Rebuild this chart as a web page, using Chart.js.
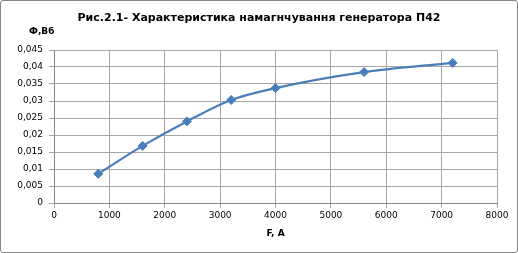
<!DOCTYPE html>
<html>
<head>
<meta charset="utf-8">
<script src="https://cdn.jsdelivr.net/npm/chart.js@4/dist/chart.umd.min.js"></script>
<style>
  html, body { margin: 0; padding: 0; background: #fff; }
  #wrap { position: relative; width: 518px; height: 253px; }
  #c { position: absolute; left: 0; top: 0; }
  #frame { position: absolute; left: 0; top: 0; width: 518px; height: 253px; box-sizing: border-box;
           border: 1px solid #868686; border-radius: 3px; pointer-events: none; }
</style>
</head>
<body>
<div id="wrap">
  <canvas id="c" width="518" height="253"></canvas>
  <div id="frame"></div>
</div>
<script>
const chartTitle = "Рис.2.1- Характеристика намагнчування генератора П42";
const yAxisTitle = "Ф,Вб";
const xAxisTitle = "F, A";
const currentF = [800, 1600, 2400, 3200, 4000, 5600, 7200];
const fluxPhi = [0.0086, 0.0168, 0.0240, 0.0303, 0.0338, 0.0385, 0.0412];
const xTicks = [0, 1000, 2000, 3000, 4000, 5000, 6000, 7000, 8000];
const yTicks = [0, 0.005, 0.01, 0.015, 0.02, 0.025, 0.03, 0.035, 0.04, 0.045];

const points = currentF.map((x, i) => ({ x: x, y: fluxPhi[i] }));
const fmt = v => String(Math.round(v * 1000) / 1000).replace('.', ',');

const textPlugin = {
  id: 'texts',
  afterDraw(chart) {
    const ctx = chart.ctx;
    const a = chart.chartArea;
    ctx.save();
    ctx.fillStyle = '#000';
    ctx.textBaseline = 'middle';
    ctx.font = 'bold 11px "DejaVu Sans"';
    ctx.textAlign = 'center';
    ctx.fillText(chartTitle, 259, 18);
    ctx.font = 'bold 9px "DejaVu Sans"';
    ctx.textAlign = 'left';
    ctx.fillText(yAxisTitle, 29, 32);
    ctx.textAlign = 'center';
    ctx.fillText(xAxisTitle, (a.left + a.right) / 2, 234);
    ctx.restore();
  }
};

new Chart(document.getElementById('c'), {
  type: 'line',
  data: {
    datasets: [{
      data: points,
      borderColor: '#4A7EBB',
      backgroundColor: '#4A7EBB',
      borderWidth: 2.25,
      pointStyle: 'rectRot',
      pointRadius: 4.5,
      pointBorderWidth: 1,
      pointBorderColor: '#4A7EBB',
      cubicInterpolationMode: 'monotone',
      fill: false
    }]
  },
  options: {
    responsive: false,
    animation: false,
    events: [],
    layout: { padding: { top: 50, right: 21, left: 0, bottom: 0 } },
    plugins: { legend: { display: false }, title: { display: false }, tooltip: { enabled: false } },
    scales: {
      x: {
        type: 'linear',
        min: 0, max: 8000,
        afterFit(s) { s.height = 50; },
        afterBuildTicks(s) { s.ticks = xTicks.map(v => ({ value: v })); },
        grid: { color: '#A6A6A6', lineWidth: 1, tickLength: 5, drawTicks: true },
        border: { color: '#868686' },
        ticks: { font: { family: 'DejaVu Sans', size: 9 }, color: '#000', padding: 2, maxRotation: 0,
                 callback: v => String(v) }
      },
      y: {
        type: 'linear',
        min: 0, max: 0.045,
        afterFit(s) { s.width = 54; },
        afterBuildTicks(s) { s.ticks = yTicks.map(v => ({ value: v })); },
        grid: { color: '#A6A6A6', lineWidth: 1, tickLength: 5, drawTicks: true },
        border: { color: '#868686' },
        ticks: { font: { family: 'DejaVu Sans', size: 9 }, color: '#000', padding: 6, callback: v => fmt(v) }
      }
    }
  },
  plugins: [textPlugin]
});
</script>
</body>
</html>
